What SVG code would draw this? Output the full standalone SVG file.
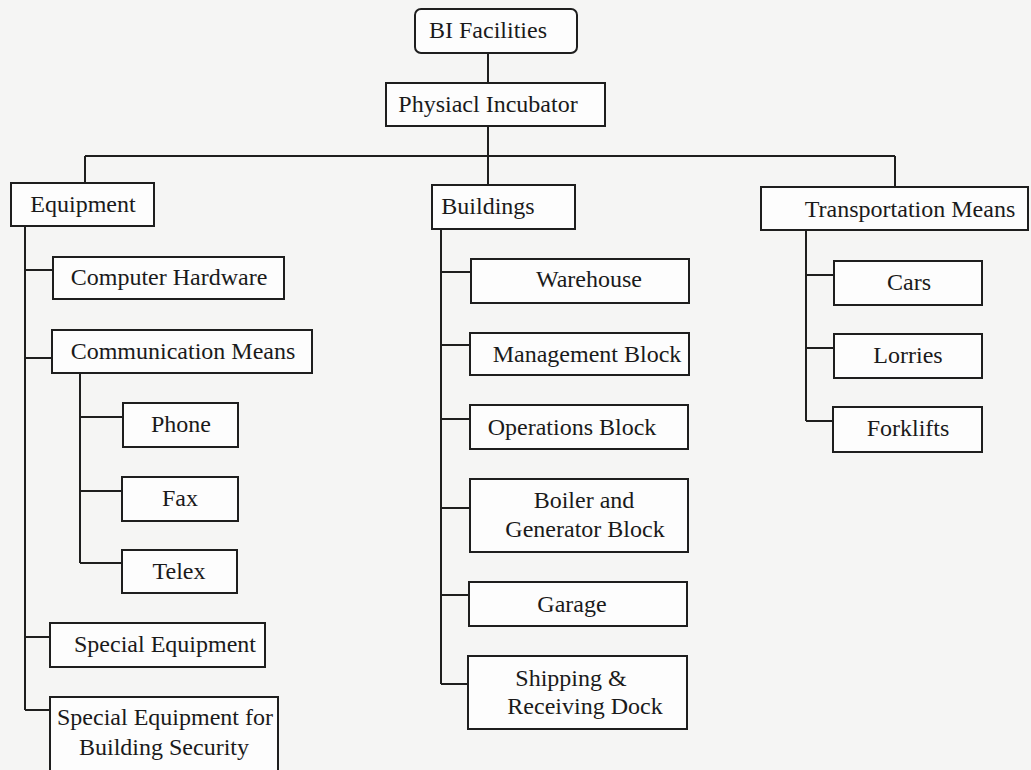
<svg xmlns="http://www.w3.org/2000/svg" width="1031" height="770" viewBox="0 0 1031 770">
<style>
.box{fill:#fdfdfd;stroke:#1e1e1e;stroke-width:2}
.ln{fill:none;stroke:#1e1e1e;stroke-width:2}
text{font-family:"Liberation Serif","Times New Roman",serif;font-size:24px;fill:#1a1a1a;text-anchor:middle}
</style>
<rect width="1031" height="770" fill="#f5f5f4"/>
<g id="connectors" class="ln">
<path d="M488 53V83M488 126V156M85 156H895M85 156V183M488 156V185M895 156V187"/>
<path d="M25 226V710M25 270H53M25 358H52M25 637H50M25 710H50"/>
<path d="M80 373V563M80 417H123M80 491H122M80 563H122"/>
<path d="M441 229V684M441 272H471M441 345H470M441 419H470M441 508H470M441 595H469M441 684H468"/>
<path d="M806 230V421M806 275H834M806 348H834M806 421H833"/>
</g>
<g id="bi-facilities"><rect class="box" x="415" y="9" width="162" height="44" rx="6"/><text x="488" y="38">BI Facilities</text></g>
<g id="physical-incubator"><rect class="box" x="386" y="83" width="219" height="43"/><text x="488" y="112">Physiacl Incubator</text></g>
<g id="equipment"><rect class="box" x="11" y="183" width="143" height="43"/><text x="83" y="212">Equipment</text></g>
<g id="buildings"><rect class="box" x="432" y="185" width="143" height="44"/><text x="488" y="214">Buildings</text></g>
<g id="transportation"><rect class="box" x="761" y="187" width="267" height="43"/><text x="910" y="217">Transportation Means</text></g>
<g id="computer-hardware"><rect class="box" x="53" y="257" width="231" height="42"/><text x="169" y="285">Computer Hardware</text></g>
<g id="communication-means"><rect class="box" x="52" y="330" width="260" height="43"/><text x="183" y="359">Communication Means</text></g>
<g id="phone"><rect class="box" x="123" y="403" width="115" height="44"/><text x="181" y="432">Phone</text></g>
<g id="fax"><rect class="box" x="122" y="477" width="116" height="44"/><text x="180" y="506">Fax</text></g>
<g id="telex"><rect class="box" x="122" y="550" width="115" height="43"/><text x="179" y="579">Telex</text></g>
<g id="special-equipment"><rect class="box" x="50" y="623" width="215" height="44"/><text x="165" y="652">Special Equipment</text></g>
<g id="special-equipment-security"><rect class="box" x="50" y="697" width="228" height="76"/><text x="165" y="725">Special Equipment for</text><text x="164" y="755">Building Security</text></g>
<g id="warehouse"><rect class="box" x="471" y="259" width="218" height="44"/><text x="589" y="287">Warehouse</text></g>
<g id="management-block"><rect class="box" x="470" y="333" width="219" height="42"/><text x="587" y="362">Management Block</text></g>
<g id="operations-block"><rect class="box" x="470" y="405" width="218" height="44"/><text x="572" y="435">Operations Block</text></g>
<g id="boiler-generator"><rect class="box" x="470" y="479" width="218" height="73"/><text x="584" y="508">Boiler and</text><text x="585" y="537">Generator Block</text></g>
<g id="garage"><rect class="box" x="469" y="582" width="218" height="44"/><text x="572" y="612">Garage</text></g>
<g id="shipping-receiving"><rect class="box" x="468" y="656" width="219" height="73"/><text x="571" y="686">Shipping &amp;</text><text x="585" y="714">Receiving Dock</text></g>
<g id="cars"><rect class="box" x="834" y="261" width="148" height="44"/><text x="909" y="290">Cars</text></g>
<g id="lorries"><rect class="box" x="834" y="334" width="148" height="44"/><text x="908" y="363">Lorries</text></g>
<g id="forklifts"><rect class="box" x="833" y="407" width="149" height="45"/><text x="908" y="436">Forklifts</text></g>
</svg>
